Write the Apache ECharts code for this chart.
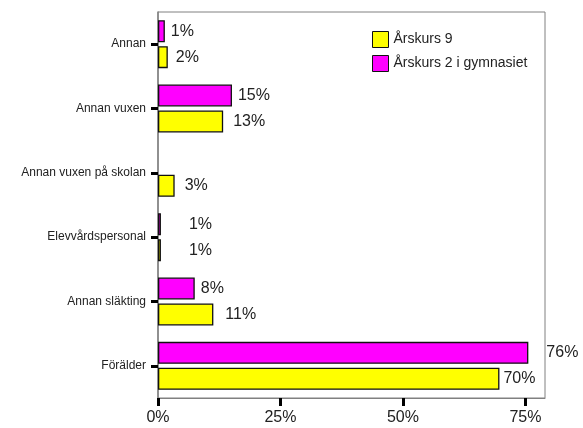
<!DOCTYPE html>
<html>
<head>
<meta charset="utf-8">
<script src="https://cdn.jsdelivr.net/npm/echarts@6/dist/echarts.min.js"></script>
<style>
  html, body { margin: 0; padding: 0; background: #fff; }
  #chart { width: 583px; height: 428px; }
</style>
</head>
<body>
<div id="chart"></div>
<script>
// kategorier uppifrån och ned
var categories = ['Annan', 'Annan vuxen', 'Annan vuxen på skolan', 'Elevvårdspersonal', 'Annan släkting', 'Förälder'];
// andel i procent
var gymnasiet = [1.4, 15.1, null, 0.6, 7.5, 75.6];
var arskurs9 = [2.0, 13.3, 3.4, 0.6, 11.3, 69.7];
var xTicks = [0, 25, 50, 75];

var chart = echarts.init(document.getElementById('chart'));

// etiketterna ligger lite olika långt från staplarna i originalet
function items(values, nudge) {
  return values.map(function (v, i) {
    if (nudge[i] == null) return v;
    return { value: v, label: { distance: nudge[i] } };
  });
}

function barSeries(name, color, data) {
  return {
    name: name,
    type: 'bar',
    data: data,
    barWidth: 22,
    barGap: '18%',
    itemStyle: { color: color, borderColor: '#111', borderWidth: 1.3 },
    label: {
      show: true,
      position: 'right',
      distance: 6,
      color: '#222',
      fontSize: 16,
      fontFamily: 'Liberation Sans',
      formatter: function (p) { return p.value == null ? '' : Math.round(p.value) + '%'; }
    }
  };
}

chart.setOption({
  animation: false,
  textStyle: { fontFamily: 'Liberation Sans' },
  grid: { left: 158, right: 38, top: 12, bottom: 30, show: true, borderColor: '#808080', borderWidth: 1 },
  legend: {
    data: ['Årskurs 9', 'Årskurs 2 i gymnasiet'],
    orient: 'vertical',
    left: 367, top: 26,
    itemWidth: 16, itemHeight: 16, itemGap: 7,
    icon: 'rect',
    itemStyle: { borderColor: '#111', borderWidth: 1 },
    textStyle: { fontSize: 14, color: '#222', fontFamily: 'Liberation Sans' }
  },
  xAxis: {
    type: 'value',
    min: 0, max: 79, interval: 25,
    splitLine: { show: false },
    axisLine: { show: true, lineStyle: { color: '#808080', width: 1 } },
    axisTick: { show: true, length: 8, customValues: xTicks, lineStyle: { color: '#000', width: 3 } },
    axisLabel: {
      customValues: xTicks,
      margin: 12, fontSize: 16, color: '#222',
      formatter: function (v) { return v + '%'; }
    }
  },
  yAxis: {
    type: 'category',
    data: categories,
    inverse: true,
    axisLine: { show: true, lineStyle: { color: '#808080', width: 1.5 } },
    axisTick: { show: true, alignWithLabel: true, length: 7, lineStyle: { color: '#000', width: 3 } },
    axisLabel: { fontSize: 12, color: '#222', margin: 12 }
  },
  series: [
    barSeries('Årskurs 2 i gymnasiet', '#ff00ff', items(gymnasiet, [null, null, null, 28, null, 18])),
    barSeries('Årskurs 9', '#ffff00', items(arskurs9, [8, 10, 10, 28, 12, 4]))
  ]
});
</script>
</body>
</html>
